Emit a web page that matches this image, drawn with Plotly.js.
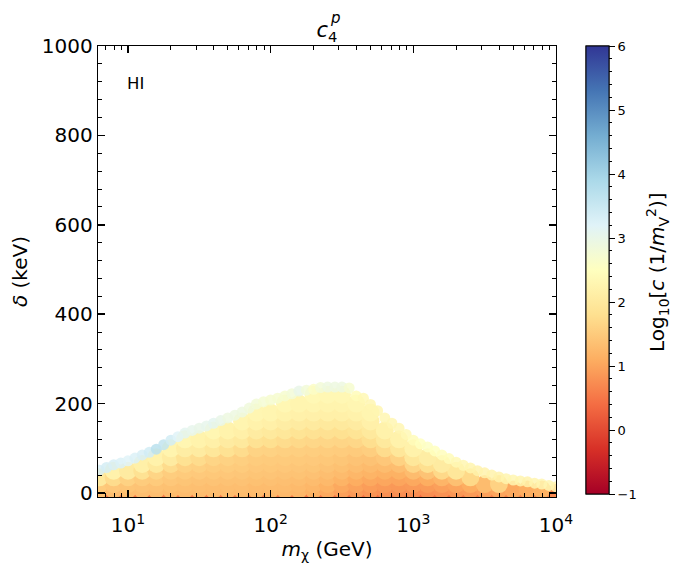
<!DOCTYPE html>
<html>
<head>
<meta charset="utf-8">
<script src="https://cdn.plot.ly/plotly-3.0.1.min.js"></script>
<style>html,body{margin:0;padding:0;background:#fff;}#chart{width:700px;height:570px;}</style>
</head>
<body>
<div id="chart"></div>
<script>
// Grid of dark-matter masses (GeV) used for the interior scan
const masses = [6.31, 7.94, 10, 12.6, 15.8, 20.0, 25.1, 31.6, 39.8, 50.1, 63.1, 79.4, 100, 126, 158, 200, 251, 316, 398, 501, 631, 794, 1000, 1259, 1585, 1995, 2512, 3162, 3981, 5012, 6310, 7943, 10000];
// Mass splittings (keV) of the interior scan rows
const deltas = [0, 8, 20, 35, 50, 65, 80, 100, 120, 140, 160, 180, 200, 220];
const N = null;
// log10 c for each (delta row, mass column); null = no allowed point
const cGrid = [
  [0.55,0.55,0.55,0.55,0.55,0.55,0.55,0.55,0.55,0.55,0.55,0.55,0.55,0.55,0.55,0.5,0.5,0.45,0.45,0.42,0.4,0.4,0.4,0.4,0.42,0.45,0.5,0.55,0.6,0.62,0.65,0.68,0.7],
  [1.35,1.33,1.32,1.32,1.32,1.3,1.3,1.3,1.3,1.28,1.28,1.27,1.26,1.25,1.22,1.15,1.05,0.95,0.88,0.82,0.78,0.76,0.75,0.76,0.8,0.85,0.9,0.95,1.0,1.05,1.1,1.15,N],
  [1.5,1.45,1.42,1.4,1.38,1.36,1.35,1.34,1.33,1.32,1.32,1.3,1.3,1.29,1.27,1.22,1.15,1.05,0.98,0.92,0.88,0.86,0.88,0.9,0.95,1.0,1.1,1.3,1.6,N,N,N,N],
  [2.0,1.75,1.6,1.52,1.5,1.45,1.42,1.4,1.4,1.38,1.38,1.36,1.35,1.34,1.33,1.3,1.25,1.18,1.1,1.05,1.02,1.0,1.05,1.1,1.2,1.35,1.7,N,N,N,N,N,N],
  [N,2.2,2.05,1.85,1.65,1.53,1.5,1.48,1.46,1.45,1.44,1.42,1.41,1.4,1.39,1.37,1.33,1.28,1.22,1.18,1.15,1.15,1.3,1.4,1.7,1.95,N,N,N,N,N,N,N],
  [N,N,N,2.15,2.0,1.75,1.6,1.57,1.53,1.52,1.5,1.47,1.46,1.45,1.44,1.43,1.4,1.36,1.32,1.28,1.3,1.32,1.65,1.8,2.05,N,N,N,N,N,N,N,N],
  [N,N,N,N,2.2,2.05,1.85,1.75,1.65,1.6,1.56,1.52,1.5,1.5,1.49,1.48,1.46,1.43,1.4,1.38,1.45,1.6,1.95,2.1,N,N,N,N,N,N,N,N,N],
  [N,N,N,N,N,2.25,2.1,2.05,1.95,1.85,1.75,1.62,1.6,1.58,1.56,1.55,1.53,1.52,1.5,1.55,1.75,1.95,2.2,N,N,N,N,N,N,N,N,N,N],
  [N,N,N,N,N,N,2.3,2.22,2.15,2.05,2.0,1.85,1.8,1.75,1.7,1.68,1.66,1.65,1.68,1.78,2.0,2.2,N,N,N,N,N,N,N,N,N,N,N],
  [N,N,N,N,N,N,N,N,2.3,2.22,2.15,2.05,2.0,1.95,1.88,1.85,1.83,1.82,1.88,2.0,2.2,N,N,N,N,N,N,N,N,N,N,N,N],
  [N,N,N,N,N,N,N,N,N,N,2.28,2.2,2.15,2.1,2.05,2.03,2.0,2.0,2.05,2.17,N,N,N,N,N,N,N,N,N,N,N,N,N],
  [N,N,N,N,N,N,N,N,N,N,N,2.3,2.27,2.22,2.18,2.17,2.15,2.15,2.2,2.28,N,N,N,N,N,N,N,N,N,N,N,N,N],
  [N,N,N,N,N,N,N,N,N,N,N,N,N,2.32,2.28,2.27,2.25,2.25,2.3,N,N,N,N,N,N,N,N,N,N,N,N,N,N],
  [N,N,N,N,N,N,N,N,N,N,N,N,N,N,N,2.35,2.33,2.33,N,N,N,N,N,N,N,N,N,N,N,N,N,N,N]
];
// Upper edge of the allowed region
const edgeMass = [6.31,7.08,7.94,8.91,10,11.2,12.6,14.1,15.8,17.8,20.0,22.4,25.1,28.2,31.6,35.5,39.8,44.7,50.1,56.2,63.1,70.8,79.4,89.1,100,112,126,141,158,178,200,224,251,282,316,355,398,447,501,562,631,708,794,891,1000,1122,1259,1413,1585,1778,1995,2239,2512,2818,3162,3548,3981,4467,5012,5623,6310,7079,7943,8913,10000];
const edgeDelta = [51,57,63,67,72,78,85,91,98,108,118,126,134,140,145,150,156,162,168,174,181,190,199,204,208,212,217,222,228,230,232,236,237,237,237,235,217,212,198,184,168,156,145,131,118,110,103,94,85,77,69,62,56,50,45,40,36,32,29,27,25,22,20,17,14];
const edgeC = [3.3,3.35,3.3,3.25,3.2,3.25,3.3,3.4,3.7,3.6,3.4,3.2,3.1,3.05,3.0,3.05,3.1,3.0,2.9,2.9,2.9,2.85,2.8,2.75,2.7,2.7,2.7,2.8,3.0,2.8,2.6,2.8,2.9,2.9,2.9,2.7,2.4,2.35,2.3,2.3,2.3,2.3,2.3,2.35,2.4,2.5,2.55,2.5,2.45,2.4,2.35,2.3,2.25,2.2,2.2,2.2,2.2,2.25,2.3,2.25,2.2,2.25,2.3,2.3,2.3];
const xTickVals = [10, 100, 1000, 10000];
const xTickText = ['10<sup>1</sup>', '10<sup>2</sup>', '10<sup>3</sup>', '10<sup>4</sup>'];
const xMinorVals = [7,8,9,20,30,40,50,60,70,80,90,200,300,400,500,600,700,800,900,2000,3000,4000,5000,6000,7000,8000,9000];
const cbTicks = [-1, 0, 1, 2, 3, 4, 5, 6];
const cbMinorTicks = [-0.8,-0.6,-0.4,-0.2,0.2,0.4,0.6,0.8,1.2,1.4,1.6,1.8,2.2,2.4,2.6,2.8,3.2,3.4,3.6,3.8,4.2,4.4,4.6,4.8,5.2,5.4,5.6,5.8];

const rdylbu = [[0,'#a50026'],[0.1,'#d73027'],[0.2,'#f46d43'],[0.3,'#fdae61'],[0.4,'#fee090'],[0.5,'#ffffbf'],[0.6,'#e0f3f8'],[0.7,'#abd9e9'],[0.8,'#74add1'],[0.9,'#4575b4'],[1,'#313695']];

const gx = [], gy = [], gc = [];
for (let r = 0; r < deltas.length; r++) {
  for (let k = 0; k < masses.length; k++) {
    const v = cGrid[r][k];
    if (v !== null) { gx.push(masses[k]); gy.push(deltas[r]); gc.push(v); }
  }
}

const font = 'DejaVu Sans, sans-serif';
const cbBase = {thickness:23, len:448, lenmode:'pixels', y:1, yanchor:'top', yref:'paper', ypad:0, xpad:0,
  x:(586-98)/542, xanchor:'left', xref:'paper', outlinewidth:1, outlinecolor:'#000', tickcolor:'#000', ticks:'outside'};
const traces = [
  {type:'scatter', mode:'markers', x:gx, y:gy, hoverinfo:'skip', showlegend:false,
   marker:{size:18, color:gc, colorscale:rdylbu, cmin:-1, cmax:6, showscale:true, line:{width:0},
     colorbar:Object.assign({}, cbBase, {ticklen:3, tickvals:cbMinorTicks, ticktext:cbMinorTicks.map(() => ''), tickfont:{size:13, color:'#000'}})}},
  {type:'scatter', mode:'markers', x:edgeMass, y:edgeDelta, hoverinfo:'skip', showlegend:false,
   marker:{size:11, color:edgeC, colorscale:rdylbu, cmin:-1, cmax:6, opacity:0.85, line:{width:0},
     showscale:true,
     colorbar:Object.assign({}, cbBase, {ticklen:6, tickvals:cbTicks, tickfont:{family:font, size:13, color:'#000'}})}}
];

const layout = {
  width:700, height:570,
  margin:{l:98, r:60, t:46, b:73},
  paper_bgcolor:'#fff', plot_bgcolor:'#fff',
  font:{family:font, color:'#000'},
  title:{text:'<i>c</i><sub>4</sub>', x:(327-98)/542, xref:'paper', xanchor:'center', y:1-30/570, yref:'container', yanchor:'middle', font:{family:font, size:21, color:'#000'}},
  xaxis:{type:'log', range:[0.79, 4], domain:[0, 0.84502], tickvals:xTickVals, ticktext:xTickText,
    showline:true, linecolor:'#000', linewidth:1.3, mirror:'allticks',
    ticks:'inside', ticklen:7, tickwidth:1.5, tickcolor:'#000', ticklabelstandoff:10,
    minor:{ticks:'inside', ticklen:4, tickwidth:1, tickcolor:'#000', tickvals:xMinorVals, showgrid:false},
    showgrid:false, zeroline:false,
    tickfont:{family:font, size:20, color:'#000'},
    title:{text:'<i>m</i><sub>χ</sub> (GeV)', font:{family:font, size:20, color:'#000'}, standoff:4}},
  yaxis:{range:[-9, 1000], dtick:200,
    showline:true, linecolor:'#000', linewidth:1.3, mirror:'allticks',
    ticks:'inside', ticklen:7, tickwidth:1.5, tickcolor:'#000',
    minor:{ticks:'inside', ticklen:4, tickwidth:1, tickcolor:'#000', dtick:40, showgrid:false},
    showgrid:false, zeroline:false,
    tickfont:{family:font, size:20, color:'#000'},
    title:{text:'<i>δ</i> (keV)', font:{family:font, size:20, color:'#000'}, standoff:8}},
  annotations:[
    {text:'<i>p</i>', xref:'paper', yref:'paper', x:(335-98)/542, y:1+28/451, xanchor:'center', yanchor:'middle', showarrow:false, font:{family:font, size:15, color:'#000'}},
    {text:'HI', xref:'paper', yref:'paper', x:(135-98)/542, y:1-38/451, xanchor:'center', yanchor:'middle', showarrow:false, font:{family:font, size:16.5, color:'#000'}},
    {text:'Log<sub>10</sub>[<i>c</i> (1/<i>m</i><sub>V</sub><sup>2</sup>)]', xref:'paper', yref:'paper', x:(657-98)/542, y:1-(272-46)/451, xanchor:'center', yanchor:'middle', textangle:-90, showarrow:false, font:{family:font, size:20, color:'#000'}}
  ]
};

Plotly.newPlot('chart', traces, layout, {displayModeBar:false, staticPlot:true});
</script>
</body>
</html>
